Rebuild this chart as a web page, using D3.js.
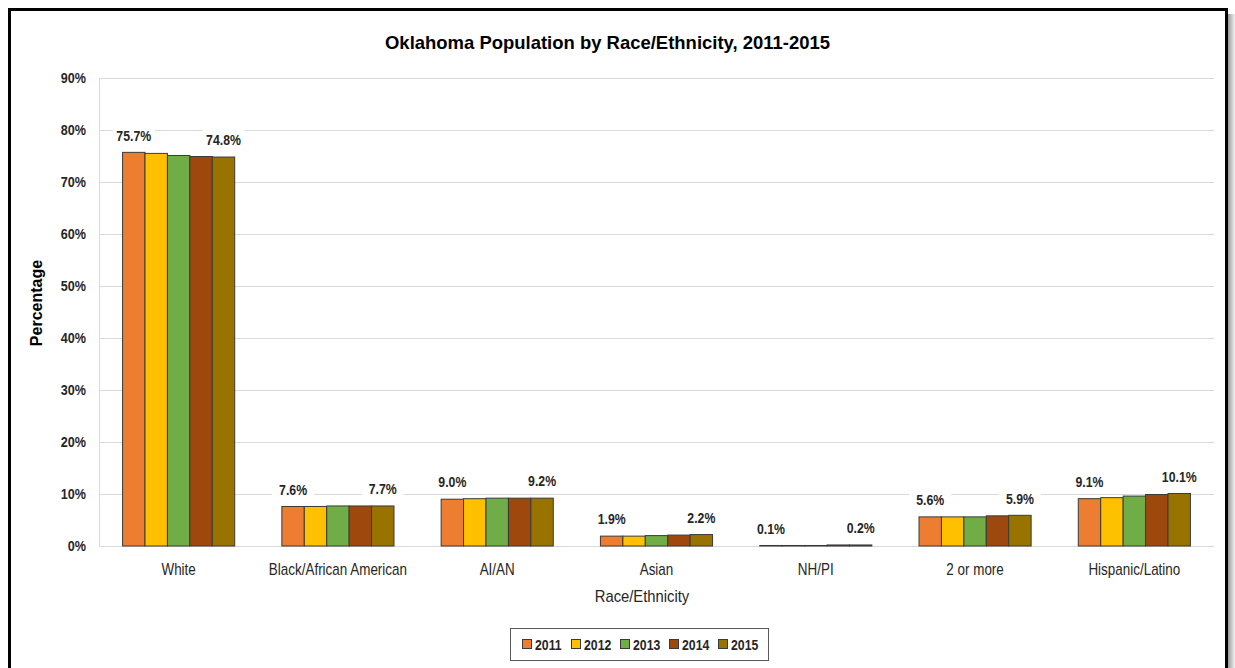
<!DOCTYPE html>
<html>
<head>
<meta charset="utf-8">
<script src="https://cdn.jsdelivr.net/npm/d3@7"></script>
<style>
  body { margin: 0; background: #fff; }
  svg text { font-family: "Liberation Sans", Arial, sans-serif; }
</style>
</head>
<body>
<div id="chart"></div>
<script>
// data
var categories = ["White", "Black/African American", "AI/AN", "Asian", "NH/PI", "2 or more", "Hispanic/Latino"];
var years = ["2011", "2012", "2013", "2014", "2015"];
var v2011 = [75.7, 7.6, 9.0, 1.9, 0.1, 5.6, 9.1];
var v2012 = [75.5, 7.6, 9.1, 1.9, 0.1, 5.6, 9.3];
var v2013 = [75.1, 7.7, 9.2, 2.0, 0.1, 5.6, 9.6];
var v2014 = [74.9, 7.7, 9.2, 2.1, 0.2, 5.8, 9.9];
var v2015 = [74.8, 7.7, 9.2, 2.2, 0.2, 5.9, 10.1];
var yTicks = [0, 10, 20, 30, 40, 50, 60, 70, 80, 90];
var colors = ["#ED7D31", "#FFC000", "#70AD47", "#9E480E", "#997300"];

var series = [v2011, v2012, v2013, v2014, v2015];

var w = 1235, h = 668;
var mLeft = 99, mRight = 1214, mTop = 78, mBottom = 546;

// squeeze text horizontally to look like a narrow font
function squeeze(sel, s) {
  sel.each(function() {
    var t = d3.select(this);
    var x = +t.attr("x") || 0;
    t.attr("transform", "translate(" + x + ",0) scale(" + s + ",1) translate(" + (-x) + ",0)");
  });
}

var svg = d3.select("#chart").append("svg")
  .attr("width", w)
  .attr("height", h);

// shadow + frame
var defs = svg.append("defs");
var grad = defs.append("linearGradient").attr("id", "shade").attr("x1", 0).attr("x2", 1);
grad.append("stop").attr("offset", 0).attr("stop-color", "#9a9a9a");
grad.append("stop").attr("offset", 1).attr("stop-color", "#f4f4f4");
svg.append("rect").attr("x", 1228).attr("y", 14).attr("width", 7).attr("height", h)
  .attr("fill", "url(#shade)");
svg.append("rect").attr("x", 9.5).attr("y", 9.5).attr("width", 1217).attr("height", 700)
  .attr("fill", "#fff").attr("stroke", "#000").attr("stroke-width", 3);

var x0 = d3.scaleBand().domain(categories).range([mLeft, mRight]).paddingInner(0.296).paddingOuter(0.148);
var x1 = d3.scaleBand().domain(years).range([0, x0.bandwidth()]);
var y = d3.scaleLinear().domain([0, 90]).range([mBottom, mTop]);

// gridlines
svg.append("g").selectAll("line")
  .data(yTicks)
  .enter()
  .append("line")
  .attr("x1", mLeft).attr("x2", mRight)
  .attr("y1", function(d) { return y(d) + 0.5; })
  .attr("y2", function(d) { return y(d) + 0.5; })
  .attr("stroke", "#d9d9d9")
  .attr("stroke-width", 1);
svg.append("line").attr("x1", mLeft + 0.5).attr("x2", mLeft + 0.5).attr("y1", mTop).attr("y2", mBottom)
  .attr("stroke", "#d9d9d9");

// y axis labels
var yAxis = d3.axisLeft(y).tickValues(yTicks).tickSize(0).tickPadding(13)
  .tickFormat(function(d) { return d + "%"; });
var gy = svg.append("g").attr("transform", "translate(" + mLeft + ",0)").call(yAxis);
gy.select(".domain").remove();
gy.selectAll("text")
  .attr("font-size", "15px")
  .attr("font-weight", "bold")
  .attr("fill", "#262626")
  .style("font-family", '"Liberation Sans", Arial, sans-serif')
  .call(squeeze, 0.84);

// bars
var groups = svg.append("g").selectAll("g")
  .data(categories)
  .enter()
  .append("g")
  .attr("transform", function(d) { return "translate(" + x0(d) + ",0)"; });

groups.selectAll("rect")
  .data(function(d, i) { return series.map(function(s, j) { return { year: years[j], val: s[i], k: j }; }); })
  .enter()
  .append("rect")
  .attr("x", function(d) { return x1(d.year); })
  .attr("y", function(d) { return y(d.val); })
  .attr("width", x1.bandwidth())
  .attr("height", function(d) { return y(0) - y(d.val); })
  .attr("fill", function(d) { return colors[d.k]; })
  .attr("stroke", "#3a3a3a")
  .attr("stroke-width", 1);

// data labels (first and last year only)
var labelData = [];
categories.forEach(function(c, i) {
  labelData.push({ cat: c, year: years[0], val: v2011[i] });
  labelData.push({ cat: c, year: years[4], val: v2015[i] });
});
var lab = svg.append("g").selectAll("g")
  .data(labelData)
  .enter()
  .append("g")
  .attr("transform", function(d) {
    return "translate(" + (x0(d.cat) + x1(d.year) + x1.bandwidth() / 2) + "," + (y(d.val) - 17) + ")";
  });
lab.append("rect")
  .attr("x", -21).attr("y", -10).attr("width", 42).attr("height", 20)
  .attr("fill", "#fff");
lab.append("text")
  .text(function(d) { return d.val.toFixed(1) + "%"; })
  .attr("text-anchor", "middle")
  .attr("dy", "0.35em")
  .attr("font-size", "15px")
  .attr("font-weight", "bold")
  .attr("fill", "#262626")
  .call(squeeze, 0.82);

// x axis labels
svg.append("g").selectAll("text")
  .data(categories)
  .enter()
  .append("text")
  .text(function(d) { return d; })
  .attr("x", function(d) { return x0(d) + x0.bandwidth() / 2; })
  .attr("y", 575)
  .attr("text-anchor", "middle")
  .attr("font-size", "16px")
  .attr("fill", "#262626")
  .call(squeeze, 0.84);

// title
svg.append("text")
  .text("Oklahoma Population by Race/Ethnicity, 2011-2015")
  .attr("x", 385).attr("y", 49)
  .attr("textLength", 445)
  .attr("lengthAdjust", "spacingAndGlyphs")
  .attr("font-size", "19px")
  .attr("font-weight", "bold")
  .attr("fill", "#000");

// axis titles
svg.append("text")
  .text("Race/Ethnicity")
  .attr("x", 642).attr("y", 602)
  .attr("text-anchor", "middle")
  .attr("font-size", "17px")
  .attr("fill", "#262626")
  .call(squeeze, 0.87);
svg.append("text")
  .text("Percentage")
  .attr("transform", "translate(42,303) rotate(-90)")
  .attr("text-anchor", "middle")
  .attr("font-size", "16px")
  .attr("font-weight", "bold")
  .attr("fill", "#000");

// legend
var leg = svg.append("g");
leg.append("rect").attr("x", 510.5).attr("y", 628.5).attr("width", 258).attr("height", 32)
  .attr("fill", "#fff").attr("stroke", "#595959").attr("stroke-width", 1);
var items = leg.selectAll("g")
  .data(years)
  .enter()
  .append("g")
  .attr("transform", function(d, i) { return "translate(" + (522 + i * 49) + ",644)"; });
items.append("rect")
  .attr("x", 0.5).attr("y", -4.5).attr("width", 9).attr("height", 9)
  .attr("fill", function(d, i) { return colors[i]; })
  .attr("stroke", "#3a3a3a").attr("stroke-width", 1);
items.append("text")
  .text(function(d) { return d; })
  .attr("x", 13).attr("y", 1)
  .attr("dy", "0.35em")
  .attr("font-size", "15px")
  .attr("font-weight", "bold")
  .attr("fill", "#262626")
  .call(squeeze, 0.82);
</script>
</body>
</html>
